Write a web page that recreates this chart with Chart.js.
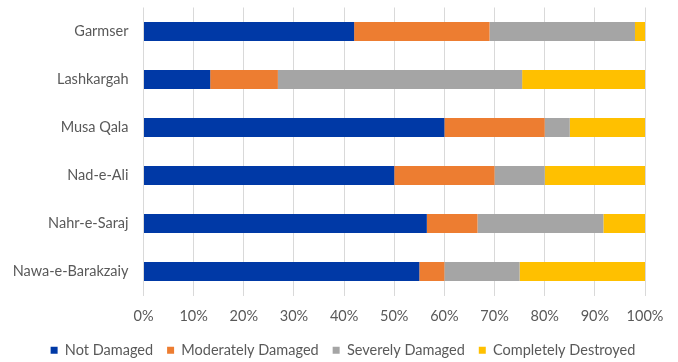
<!DOCTYPE html>
<html>
<head>
<meta charset="utf-8">
<script src="https://cdn.jsdelivr.net/npm/chart.js@4/dist/chart.umd.min.js"></script>
<style>
  html, body { margin: 0; padding: 0; background: #ffffff; }
  #wrap { width: 678px; height: 362px; }
</style>
</head>
<body>
<div id="wrap"><canvas id="c" width="678" height="362"></canvas></div>
<script>
// Share of buildings by damage level, per district (percent of total)
const districts = ['Garmser', 'Lashkargah', 'Musa Qala', 'Nad-e-Ali', 'Nahr-e-Saraj', 'Nawa-e-Barakzaiy'];
const notDamaged          = [42, 13.3, 60, 50, 56.5, 55];
const moderatelyDamaged   = [27, 13.5, 20, 20, 10.1, 5];
const severelyDamaged     = [29, 48.7, 5, 10, 25.1, 15];
const completelyDestroyed = [2, 24.5, 15, 20, 8.3, 25];
const percentTicks = [0, 10, 20, 30, 40, 50, 60, 70, 80, 90, 100];

const seriesNames  = ['Not Damaged', 'Moderately Damaged', 'Severely Damaged', 'Completely Destroyed'];
const seriesValues = [notDamaged, moderatelyDamaged, severelyDamaged, completelyDestroyed];
const seriesColors = ['#0039a6', '#ed7d31', '#a5a5a5', '#ffc000'];

const FONT = 'Lato, "Open Sans", sans-serif';
const FONT_SIZE = 14.5;
const LEGEND_HEIGHT = 33;

// Keep the legend band compact while still spacing its items apart
const compactLegend = {
  id: 'compactLegend',
  beforeLayout(chart) {
    const lg = chart.legend;
    if (lg && !lg._compact) {
      const fit = lg.fit.bind(lg);
      lg.fit = function () { fit(); this.height = LEGEND_HEIGHT; };
      lg._compact = true;
    }
  }
};

new Chart(document.getElementById('c'), {
  type: 'bar',
  data: {
    labels: districts,
    datasets: seriesNames.map((name, i) => ({
      label: name,
      data: seriesValues[i],
      backgroundColor: seriesColors[i],
      borderWidth: 0,
      categoryPercentage: 1,
      barPercentage: 0.4
    }))
  },
  options: {
    indexAxis: 'y',
    responsive: false,
    animation: false,
    layout: { padding: { top: 7.5, right: 0, left: 8, bottom: 0 } },
    scales: {
      x: {
        stacked: true,
        min: 0,
        max: 100,
        afterBuildTicks: (scale) => { scale.ticks = percentTicks.map(v => ({ value: v })); },
        afterFit: (scale) => { scale.height = 33.5; scale.paddingRight = 33; },
        ticks: {
          callback: (v) => v + '%',
          color: '#595959',
          font: { family: FONT, size: FONT_SIZE },
          padding: 12,
          maxRotation: 0
        },
        grid: { color: '#d9d9d9', lineWidth: 1, drawTicks: false },
        border: { display: false }
      },
      y: {
        stacked: true,
        afterFit: (scale) => { scale.width = 135.5; scale.paddingTop = 0; scale.paddingBottom = 0; },
        ticks: {
          color: '#595959',
          font: { family: FONT, size: FONT_SIZE },
          padding: 15
        },
        grid: { display: false, drawTicks: false },
        border: { display: false }
      }
    },
    plugins: {
      legend: {
        position: 'bottom',
        labels: {
          boxWidth: 7,
          boxHeight: 7,
          padding: 14,
          color: '#595959',
          font: { family: FONT, size: FONT_SIZE }
        }
      },
      tooltip: { enabled: false }
    }
  },
  plugins: [compactLegend]
});
</script>
</body>
</html>
